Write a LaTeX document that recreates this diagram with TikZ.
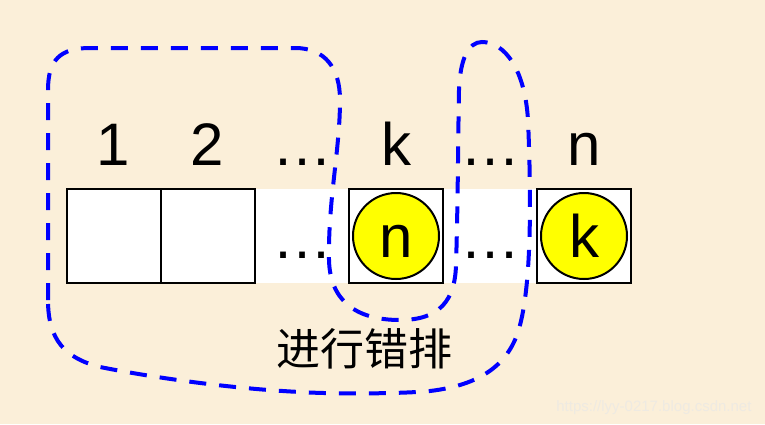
\documentclass[tikz,border=0pt]{standalone}
\usepackage{fontspec}
\setmainfont{Liberation Sans}
\newfontfamily\cjk{Noto Sans CJK SC}
\definecolor{paper}{RGB}{251,239,217}
\definecolor{ringblue}{RGB}{0,0,255}
\definecolor{ballyellow}{RGB}{255,255,0}
\definecolor{wmgray}{RGB}{238,234,226}
\tikzset{
  cell/.style={draw, line width=2pt, fill=white, minimum size=94pt, inner sep=0pt},
  gapcell/.style={fill=white, minimum size=94pt, inner sep=0pt},
  ball/.style={circle, draw, line width=2pt, fill=ballyellow, minimum size=86pt, inner sep=0pt,
    text height=43pt, text depth=0pt, font=\fontsize{60}{60}\selectfont},
  idx/.style={anchor=base, font=\fontsize{60}{60}\selectfont},
  ring/.style={ringblue, line width=4pt, dash pattern=on 17pt off 13pt},
}

\begin{document}
\begin{tikzpicture}[x=1pt,y=-1pt]
        \fill[paper](0,0)rectangle(765,424);
        \useasboundingbox(0,0)rectangle(765,424);

        \node[gapcell](g1)at(302,236){};
        \node[gapcell](g2)at(490,236){};
        \node[cell](c1)at(113.5,236){};
        \node[cell](c2)at(208,236){};
        \node[cell](ck)at(396,236){};
        \node[cell](cn)at(584,236){};
        \node[ball](bn)at(ck){n};
        \node[ball](bk)at(cn){k};

        \node[idx](l1)at(113,165){1};
        \node[idx](l2)at(207,165){2};
        \node[idx](l3)at(302,165){…};
        \node[idx](lk)at(396,165){k};
        \node[idx](l5)at(490,165){…};
        \node[idx](ln)at(584,165){n};
        \node[idx](m1)at(302,258){…};
        \node[idx](m2)at(490,258){…};

        \draw[ring](48,300)--(48,90) .. controls (48,60) and (60,48) .. (90,48)--(295,48)
            .. controls (325,48) and (340,68) .. (340,100)
            .. controls (340,150) and (328,200) .. (329,260)
            .. controls (330,300) and (355,320) .. (400,320)
            .. controls (440,320) and (455,300) .. (456,265)
            .. controls (458,200) and (458,140) .. (459,90)
            .. controls (460,60) and (468,42) .. (482,42)
            .. controls (505,42) and (525,70) .. (528,120)
            .. controls (531,190) and (532,280) .. (520,325)
            .. controls (510,365) and (480,385) .. (430,391)
            .. controls (400,394) and (330,394) .. (300,392)
            .. controls (220,388) and (140,375) .. (100,367)
            .. controls (65,358) and (48,340) .. (48,300)--cycle;

        \node[font=\cjk\fontsize{44}{44}\selectfont](cap)at(364,349){进行错排};
        \node[anchor=base east, font=\fontsize{15}{15}\selectfont, text=wmgray](wm)at(755,411){https://lyy-0217.blog.csdn.net};
\end{tikzpicture}
\end{document}
